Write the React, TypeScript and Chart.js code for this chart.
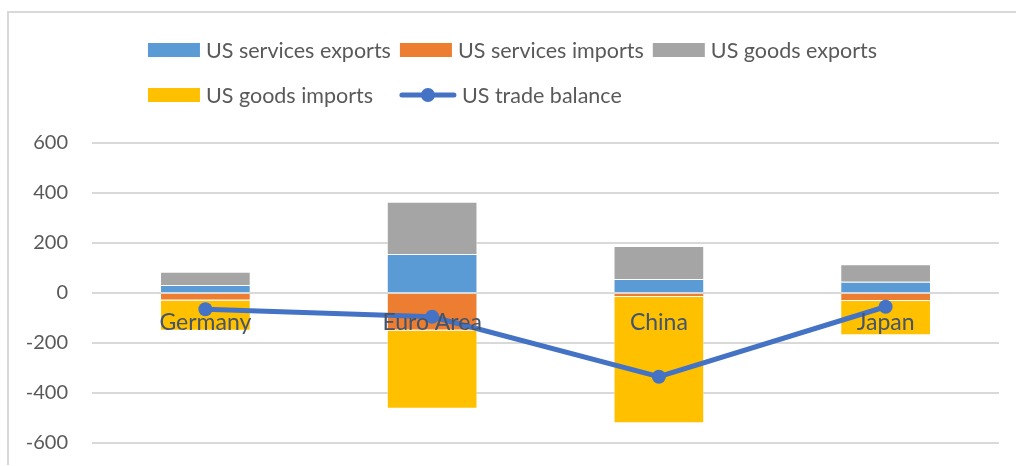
import React, { useEffect, useRef } from 'react';
import { Chart, registerables } from 'chart.js';

Chart.register(...registerables);

const categories = ['Germany', 'Euro Area', 'China', 'Japan'];
const servicesExports = [32, 156, 56, 45];
const servicesImports = [-30, -150, -16, -32];
const goodsExports = [53, 209, 132, 70];
const goodsImports = [-121, -313, -505, -137];
const tradeBalance = [-65, -95, -335, -55];
const yTickValues = [-600, -400, -200, 0, 200, 400, 600];

const seriesLabels = [
  'US services exports',
  'US services imports',
  'US goods exports',
  'US goods imports',
  'US trade balance',
];

const FONT = 'Lato, "Open Sans", sans-serif';

const excelLegend = {
  id: 'excelLegend',
  afterDraw(chart: any) {
    const ctx = chart.ctx;
    const datasets = chart.data.datasets;
    const perRow = 3;
    const fontSize = 21.5;
    const boxW = 52;
    const boxH = 14;
    const lineW = 56;
    const symGap = 6;
    const colGap = 9;
    const rowCenters = [37, 82];
    ctx.save();
    ctx.font = `${fontSize}px ${FONT}`;
    const items = datasets.map((ds: any) => {
      const isLine = ds.type === 'line';
      const sw = isLine ? lineW : boxW;
      const tw = ctx.measureText(ds.label).width;
      return { ds, isLine, sw, width: sw + symGap + tw };
    });
    const colWidths: number[] = [];
    items.forEach((it: any, i: number) => {
      const c = i % perRow;
      colWidths[c] = Math.max(colWidths[c] || 0, it.width);
    });
    const total = colWidths.reduce((a, b) => a + b, 0) + colGap * (colWidths.length - 1);
    const startX = (chart.width - total) / 2;
    const colStarts: number[] = [];
    let acc = startX;
    colWidths.forEach((w, c) => {
      colStarts[c] = acc;
      acc += w + colGap;
    });
    items.forEach((it: any, i: number) => {
      const c = i % perRow;
      const r = Math.floor(i / perRow);
      const x = colStarts[c];
      const y = rowCenters[r];
      if (it.isLine) {
        ctx.strokeStyle = it.ds.borderColor;
        ctx.lineWidth = 5;
        ctx.lineCap = 'round';
        ctx.beginPath();
        ctx.moveTo(x + 2, y);
        ctx.lineTo(x + it.sw - 2, y);
        ctx.stroke();
        ctx.fillStyle = it.ds.pointBackgroundColor;
        ctx.beginPath();
        ctx.arc(x + it.sw / 2, y, 7, 0, Math.PI * 2);
        ctx.fill();
      } else {
        ctx.fillStyle = it.ds.backgroundColor;
        ctx.fillRect(x, y - boxH / 2, boxW, boxH);
      }
      ctx.fillStyle = '#595959';
      ctx.textBaseline = 'middle';
      ctx.textAlign = 'left';
      ctx.fillText(it.ds.label, x + it.sw + symGap, y + 1);
    });
    ctx.restore();
  },
};

const categoryLabels = {
  id: 'categoryLabels',
  afterDatasetsDraw(chart: any) {
    const ctx = chart.ctx;
    const xScale = chart.scales.x;
    const yScale = chart.scales.y;
    const y0 = yScale.getPixelForValue(0);
    ctx.save();
    ctx.font = `23px ${FONT}`;
    ctx.fillStyle = '#44546A';
    ctx.textAlign = 'center';
    ctx.textBaseline = 'middle';
    categories.forEach((c, i) => {
      ctx.fillText(c, xScale.getPixelForValue(i), y0 + 30);
    });
    ctx.restore();
  },
};

export default function App() {
  const ref = useRef<HTMLCanvasElement | null>(null);

  useEffect(() => {
    if (!ref.current) return;
    document.body.style.overflow = 'hidden';
    const barCommon = {
      type: 'bar' as const,
      stack: 'trade',
      borderWidth: 1,
      borderColor: 'rgba(255,255,255,0.45)',
      barPercentage: 0.4,
      categoryPercentage: 1,
      order: 1,
    };
    const chart = new Chart(ref.current, {
      type: 'bar',
      data: {
        labels: categories,
        datasets: [
          { ...barCommon, label: seriesLabels[0], data: servicesExports, backgroundColor: '#5B9BD5' },
          { ...barCommon, label: seriesLabels[1], data: servicesImports, backgroundColor: '#ED7D31' },
          { ...barCommon, label: seriesLabels[2], data: goodsExports, backgroundColor: '#A5A5A5' },
          { ...barCommon, label: seriesLabels[3], data: goodsImports, backgroundColor: '#FFC000' },
          {
            type: 'line' as const,
            label: seriesLabels[4],
            data: tradeBalance,
            stack: 'balance',
            borderColor: '#4472C4',
            backgroundColor: '#4472C4',
            pointBackgroundColor: '#4472C4',
            pointBorderColor: '#4472C4',
            borderWidth: 5,
            pointRadius: 7,
            pointBorderWidth: 0,
            tension: 0,
            fill: false,
            order: 0,
          } as any,
        ],
      },
      options: {
        responsive: false,
        animation: false,
        layout: { padding: { top: 130, right: 17, bottom: 22, left: 0 } },
        plugins: {
          legend: { display: false },
          tooltip: { enabled: false },
          title: { display: false },
        },
        scales: {
          x: {
            stacked: true,
            display: false,
            offset: true,
            grid: { display: false },
          },
          y: {
            stacked: true,
            min: -600,
            max: 600,
            afterFit(scale: any) {
              scale.width = 83;
              scale.paddingTop = 0;
              scale.paddingBottom = 0;
            },
            afterBuildTicks(scale: any) {
              scale.ticks = yTickValues.map((v) => ({ value: v }));
            },
            border: { display: false },
            grid: { color: '#d9d9d9', lineWidth: 2, drawTicks: false },
            ticks: {
              padding: 24,
              color: '#595959',
              font: { family: FONT, size: 20 },
            },
          },
        },
      },
      plugins: [excelLegend, categoryLabels],
    });
    return () => chart.destroy();
  }, []);

  return (
    <div
      style={{
        position: 'absolute',
        left: 7,
        top: 11,
        width: 1009,
        height: 454,
        borderTop: '2px solid #d9d9d9',
        borderLeft: '2px solid #d9d9d9',
        boxSizing: 'border-box',
        overflow: 'hidden',
        background: '#fff',
      }}
    >
      <canvas ref={ref} width={1007} height={452} style={{ display: 'block' }} />
    </div>
  );
}
